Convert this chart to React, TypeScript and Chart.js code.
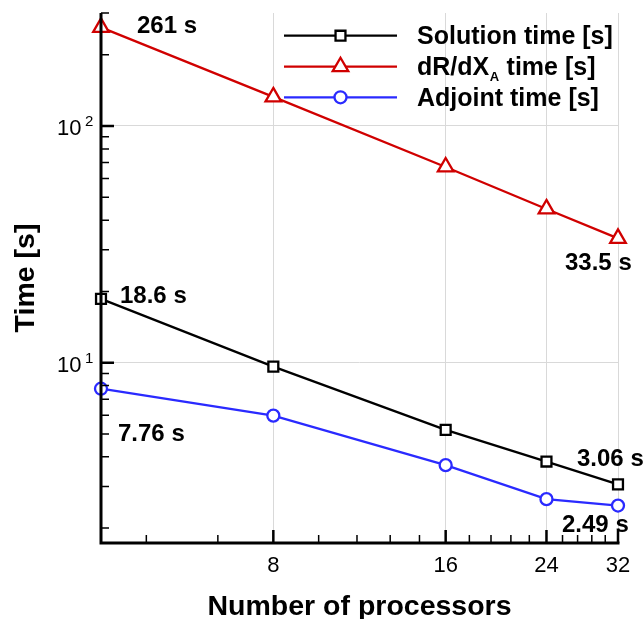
import React, { useEffect, useRef } from 'react';
import { Chart, registerables } from 'chart.js';

Chart.register(...registerables);

// ---- data ----
const processors = [4, 8, 16, 24, 32];
const solutionTime = [18.6, 9.62, 5.2, 3.82, 3.06];
const dRdXTime = [261, 132.6, 67.1, 44.6, 33.5];
const adjointTime = [7.76, 5.97, 3.69, 2.65, 2.49];

const xMajorTicks = [8, 16, 24, 32];
const xMinorTicks = [4.8, 6.4, 9.6, 11.2, 12.8, 14.4, 17.6, 19.2, 20.8, 22.4, 25.6, 27.2, 28.8, 30.4];
const yMajorTicks = [10, 100];
const yMinorTicks = [2, 3, 4, 5, 6, 7, 8, 9, 20, 30, 40, 50, 60, 70, 80, 90, 200, 300];

const seriesNames = ['Solution time [s]', 'dR/dX', 'Adjoint time [s]'];
const annotationValues = [
  { x: 4, y: 261, text: '261 s' },
  { x: 4, y: 18.6, text: '18.6 s' },
  { x: 4, y: 7.76, text: '7.76 s' },
  { x: 32, y: 33.5, text: '33.5 s' },
  { x: 32, y: 3.06, text: '3.06 s' },
  { x: 32, y: 2.49, text: '2.49 s' },
];

const X_MIN = 4;
const X_MAX = 32;
const Y_MIN = 1.73;
const Y_MAX = 300;

const BLACK = '#000000';
const RED = '#d00000';
const BLUE = '#2a2aff';
const GRID = '#d9d9d9';
const FONT = '"Liberation Sans", Arial, Helvetica, sans-serif';

const annotationOffsets = [
  [36, 6],
  [19, 4],
  [17, 52],
  [-53, 32],
  [-41, -18],
  [-56, 26],
];

function drawMarker(ctx: CanvasRenderingContext2D, style: string, x: number, y: number, color: string) {
  ctx.save();
  ctx.strokeStyle = color;
  ctx.fillStyle = '#ffffff';
  ctx.lineWidth = 2.3;
  ctx.beginPath();
  if (style === 'rect') {
    const s = 7 * Math.SQRT1_2;
    ctx.rect(x - s, y - s, 2 * s, 2 * s);
  } else if (style === 'triangle') {
    const r = 9;
    ctx.moveTo(x, y - r);
    ctx.lineTo(x + 0.866 * r, y + 0.5 * r);
    ctx.lineTo(x - 0.866 * r, y + 0.5 * r);
    ctx.closePath();
  } else {
    ctx.arc(x, y, 6, 0, Math.PI * 2);
  }
  ctx.fill();
  ctx.stroke();
  ctx.restore();
}

const overlayPlugin = {
  id: 'overlay',
  afterDatasetsDraw(chart: any) {
    const { ctx, chartArea, scales } = chart;
    const { left, right, top, bottom } = chartArea;
    const xs = scales.x;
    const ys = scales.y;
    ctx.save();

    // axes lines
    ctx.strokeStyle = BLACK;
    ctx.lineWidth = 3;
    ctx.beginPath();
    ctx.moveTo(left, top);
    ctx.lineTo(left, bottom);
    ctx.lineTo(right + 1.5, bottom);
    ctx.stroke();

    // inward ticks
    const tick = (vals: number[], len: number, lw: number, axis: 'x' | 'y') => {
      ctx.lineWidth = lw;
      ctx.beginPath();
      vals.forEach((v) => {
        if (axis === 'x') {
          const px = xs.getPixelForValue(v);
          ctx.moveTo(px, bottom);
          ctx.lineTo(px, bottom - len);
        } else {
          const py = ys.getPixelForValue(v);
          ctx.moveTo(left, py);
          ctx.lineTo(left + len, py);
        }
      });
      ctx.stroke();
    };
    tick(xMinorTicks, 8, 1.5, 'x');
    tick(xMajorTicks, 13, 2.5, 'x');
    tick(yMinorTicks, 8, 1.5, 'y');
    tick(yMajorTicks, 13, 2.5, 'y');

    // y tick labels 10^n
    ctx.fillStyle = BLACK;
    ctx.textAlign = 'left';
    ctx.textBaseline = 'alphabetic';
    yMajorTicks.forEach((v) => {
      const py = ys.getPixelForValue(v);
      ctx.font = `22px ${FONT}`;
      ctx.fillText('10', 57, py + 9);
      ctx.font = `15px ${FONT}`;
      ctx.fillText(String(Math.round(Math.log10(v))), 85, py + 0.5);
    });

    // axis titles
    ctx.font = `bold 28.5px ${FONT}`;
    ctx.textAlign = 'center';
    ctx.fillText('Number of processors', (left + right) / 2, 615);
    ctx.save();
    ctx.translate(34, (top + bottom) / 2);
    ctx.rotate(-Math.PI / 2);
    ctx.fillText('Time [s]', 0, 0);
    ctx.restore();

    // annotations
    ctx.font = `bold 24px ${FONT}`;
    ctx.textAlign = 'left';
    annotationValues.forEach((a, i) => {
      const px = xs.getPixelForValue(a.x);
      const py = ys.getPixelForValue(a.y);
      const [dx, dy] = annotationOffsets[i];
      ctx.fillText(a.text, px + dx, py + dy);
    });

    // legend
    const colors = [BLACK, RED, BLUE];
    const styles = ['rect', 'triangle', 'circle'];
    const rowY = [35.7, 66.7, 97.3];
    rowY.forEach((ly, i) => {
      ctx.strokeStyle = colors[i];
      ctx.lineWidth = 2.3;
      ctx.beginPath();
      ctx.moveTo(284, ly);
      ctx.lineTo(397, ly);
      ctx.stroke();
      drawMarker(ctx, styles[i], 340.5, ly, colors[i]);
      ctx.fillStyle = BLACK;
      ctx.font = `bold 25px ${FONT}`;
      const tx = 417;
      const base = ly + 8.7;
      if (i === 1) {
        ctx.fillText(seriesNames[1], tx, base);
        const w = ctx.measureText(seriesNames[1]).width;
        ctx.font = `bold 13px ${FONT}`;
        ctx.fillText('A', tx + w + 0.5, base + 6);
        const wa = ctx.measureText('A').width;
        ctx.font = `bold 25px ${FONT}`;
        ctx.fillText(' time [s]', tx + w + wa + 1, base);
      } else {
        ctx.fillText(seriesNames[i], tx, base);
      }
    });

    ctx.restore();
  },
};

function toPoints(values: number[]) {
  return processors.map((p, i) => ({ x: p, y: values[i] }));
}

export default function App() {
  const canvasRef = useRef<HTMLCanvasElement | null>(null);

  useEffect(() => {
    document.body.style.margin = '0';
    const canvas = canvasRef.current;
    if (!canvas) return;
    const ds = (label: string, values: number[], color: string, style: string, radius: number) => ({
      label,
      data: toPoints(values),
      borderColor: color,
      backgroundColor: '#ffffff',
      borderWidth: 2.3,
      pointStyle: style,
      pointRadius: radius,
      pointBorderWidth: 2.3,
      pointBorderColor: color,
      pointBackgroundColor: '#ffffff',
      clip: false as any,
      tension: 0,
    });
    const chart = new Chart(canvas, {
      type: 'line',
      data: {
        datasets: [
          ds(seriesNames[0], solutionTime, BLACK, 'rect', 7),
          ds('dR/dXA time [s]', dRdXTime, RED, 'triangle', 9),
          ds(seriesNames[2], adjointTime, BLUE, 'circle', 6),
        ],
      },
      options: {
        responsive: false,
        animation: false,
        layout: { padding: { top: 13, right: 26, left: 0, bottom: 0 } },
        plugins: { legend: { display: false }, tooltip: { enabled: false } },
        scales: {
          x: {
            type: 'logarithmic',
            min: X_MIN,
            max: X_MAX,
            afterBuildTicks: (s: any) => {
              s.ticks = xMajorTicks.map((v) => ({ value: v }));
            },
            afterFit: (s: any) => {
              s.height = 76;
            },
            ticks: {
              autoSkip: false,
              maxRotation: 0,
              padding: 10,
              color: BLACK,
              font: { family: FONT, size: 22 },
              callback: (v: any) => String(v),
            },
            grid: { color: GRID, lineWidth: 1, drawTicks: false },
            border: { display: false },
          },
          y: {
            type: 'logarithmic',
            min: Y_MIN,
            max: Y_MAX,
            afterBuildTicks: (s: any) => {
              s.ticks = yMajorTicks.map((v) => ({ value: v }));
            },
            afterFit: (s: any) => {
              s.width = 101;
            },
            ticks: { display: false },
            grid: { color: GRID, lineWidth: 1, drawTicks: false },
            border: { display: false },
          },
        },
      },
      plugins: [overlayPlugin],
    });
    return () => chart.destroy();
  }, []);

  return (
    <div style={{ width: 644, height: 619 }}>
      <canvas ref={canvasRef} width={644} height={619} style={{ display: 'block' }} />
    </div>
  );
}
